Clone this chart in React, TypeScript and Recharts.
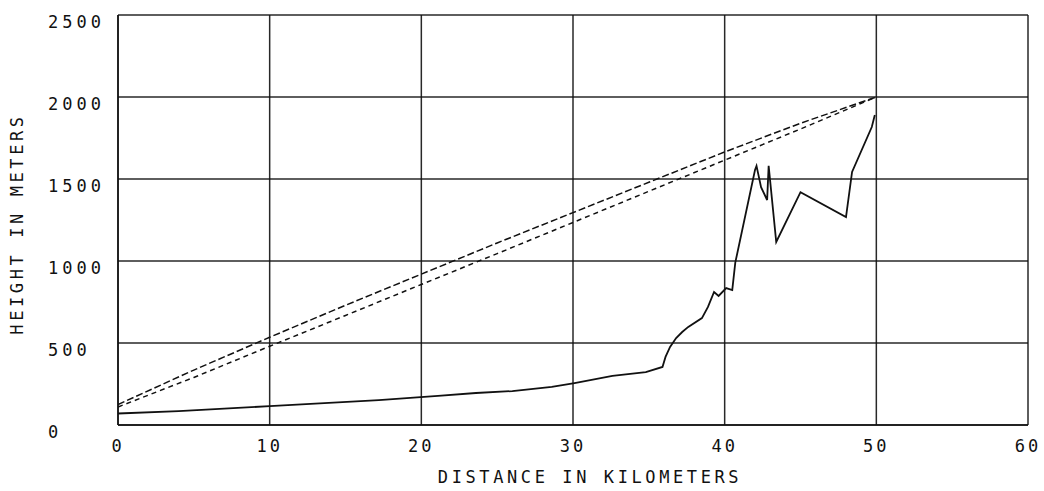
import React from "react";
import { LineChart, Line, XAxis, YAxis, CartesianGrid } from "recharts";

// terrain profile (km, metres)
const terrainKm = [
  0, 4, 10, 17.2, 21.1, 23.6, 26, 28.6, 30.1, 32.6, 34.8, 35.9, 36.1, 36.4, 36.8, 37.2, 37.6, 38.5, 38.9,
  39.3, 39.6, 40.1, 40.5, 40.7, 42, 42.1, 42.4, 42.8, 42.9, 43.4, 45, 48, 48.4, 49.7, 49.9,
];
const terrainHeight = [
  70, 85, 115, 152, 177, 195, 207, 232, 256, 299, 323, 354, 415, 476, 530, 567, 598, 652, 720,
  811, 787, 835, 823, 990, 1555, 1580, 1450, 1372, 1580, 1116, 1420, 1268, 1543, 1817, 1890,
];

// line of sight, drawn twice by the plotter
const sightKm = [0, 5, 10, 15, 20, 25, 30, 35, 40, 45, 50];
const upperHeight = [125, 335, 535, 730, 920, 1110, 1295, 1480, 1665, 1840, 2000];
const lowerHeight = [110, 290, 480, 668, 857, 1045, 1235, 1425, 1615, 1805, 2000];

const xTicks = [0, 10, 20, 30, 40, 50, 60];
const yTicks = [0, 500, 1000, 1500, 2000, 2500];

const terrain = terrainKm.map((km, i) => ({ km, m: terrainHeight[i] }));
const upper = sightKm.map((km, i) => ({ km, m: upperHeight[i] }));
const lower = sightKm.map((km, i) => ({ km, m: lowerHeight[i] }));

const font = "'DejaVu Sans Mono', monospace";
const ink = "#111";

const XTick = (props: any) => {
  const { x, payload } = props;
  return (
    <text x={x} y={446} textAnchor="middle" dominantBaseline="central" fontFamily={font} fontSize={17} letterSpacing={3} fill={ink}>
      {payload.value}
    </text>
  );
};

const YTick = (props: any) => {
  const { y, payload } = props;
  return (
    <text x={48} y={y + 7} textAnchor="start" dominantBaseline="central" fontFamily={font} fontSize={17} letterSpacing={4} fill={ink}>
      {payload.value}
    </text>
  );
};

export default function App() {
  return (
    <div style={{ position: "absolute", left: 0, top: 0, background: "#fff" }}>
      <LineChart width={1044} height={491} margin={{ top: 15, right: 16, bottom: 0, left: 0 }}>
        <CartesianGrid stroke={ink} strokeWidth={1.5} strokeOpacity={0.9} />
        <XAxis
          type="number"
          dataKey="km"
          domain={[0, 60]}
          ticks={xTicks}
          height={66}
          tickLine={false}
          axisLine={{ stroke: ink, strokeWidth: 1.5 }}
          tick={<XTick />}
          allowDataOverflow
        />
        <YAxis
          type="number"
          dataKey="m"
          domain={[0, 2500]}
          ticks={yTicks}
          width={118}
          tickLine={false}
          axisLine={{ stroke: ink, strokeWidth: 1.5 }}
          tick={<YTick />}
        />
        <Line data={upper} dataKey="m" stroke={ink} strokeWidth={1.5} strokeDasharray="7 3" dot={false} isAnimationActive={false} />
        <Line data={lower} dataKey="m" stroke={ink} strokeWidth={1.5} strokeDasharray="5 4" dot={false} isAnimationActive={false} />
        <Line data={terrain} dataKey="m" stroke={ink} strokeWidth={1.8} dot={false} isAnimationActive={false} />
        <text x={590} y={477} textAnchor="middle" dominantBaseline="central" fontFamily={font} fontSize={17} letterSpacing={3.6} fill={ink}>
          DISTANCE IN KILOMETERS
        </text>
        <text
          x={17}
          y={224}
          transform="rotate(-90 17 224)"
          textAnchor="middle"
          dominantBaseline="central"
          fontFamily={font}
          fontSize={17}
          letterSpacing={3.6}
          fill={ink}
        >
          HEIGHT IN METERS
        </text>
      </LineChart>
    </div>
  );
}
